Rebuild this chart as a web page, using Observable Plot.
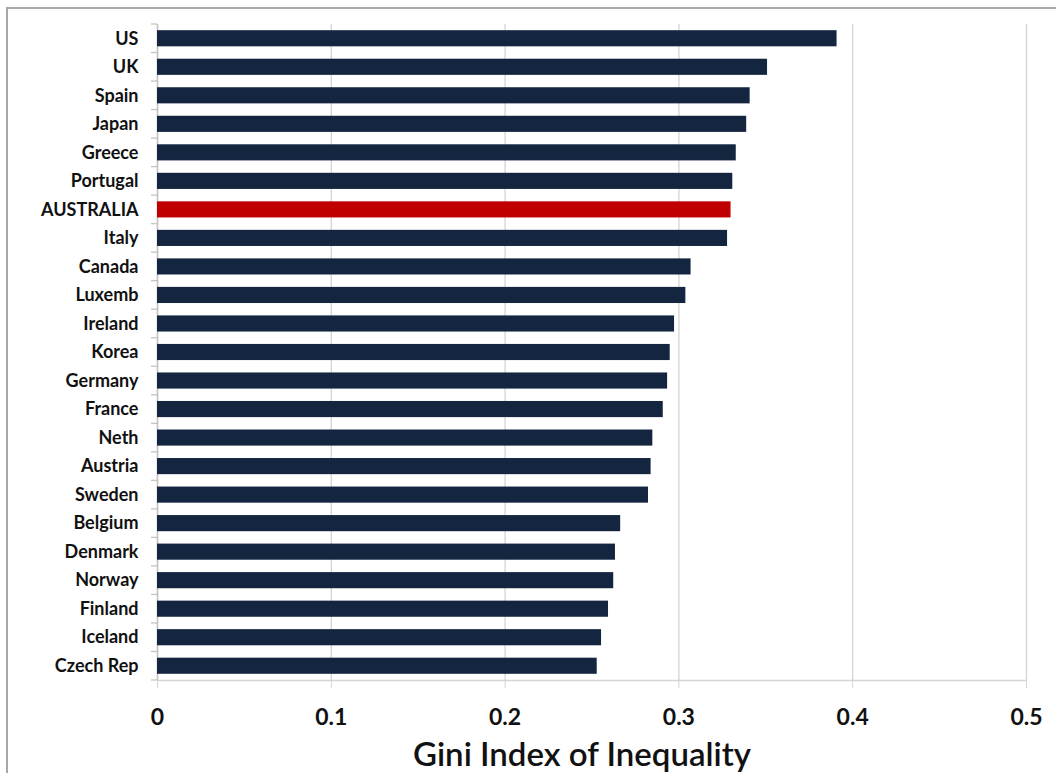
<!DOCTYPE html>
<html>
<head>
<meta charset="utf-8">
<script src="https://cdn.jsdelivr.net/npm/d3@7"></script>
<script src="https://cdn.jsdelivr.net/npm/@observablehq/plot@0.6"></script>
<style>
  html, body { margin: 0; padding: 0; background: #fff; }
  #wrap { position: relative; width: 1056px; height: 773px; overflow: hidden; }
  #frame { position: absolute; left: 6px; top: 7px; width: 1100px; height: 800px;
           border-left: 2px solid #a9a9a9; border-top: 2px solid #a9a9a9; }
  #chart { position: absolute; left: 0; top: 0; }
</style>
</head>
<body>
<div id="wrap"><div id="frame"></div><div id="chart"></div></div>
<script>
const countries = ["US","UK","Spain","Japan","Greece","Portugal","AUSTRALIA","Italy","Canada","Luxemb","Ireland","Korea","Germany","France","Neth","Austria","Sweden","Belgium","Denmark","Norway","Finland","Iceland","Czech Rep"];
const gini = [0.391,0.351,0.341,0.339,0.333,0.331,0.330,0.328,0.307,0.304,0.2975,0.295,0.2935,0.291,0.285,0.284,0.2825,0.2665,0.2635,0.2625,0.2595,0.2555,0.253];
const highlight = "AUSTRALIA";
const xTicks = [0, 0.1, 0.2, 0.3, 0.4, 0.5];
const xLabel = "Gini Index of Inequality";

const data = countries.map((c, i) => ({country: c, value: gini[i]}));

const W = 1056, H = 773;
const mt = 24, mb = 93, ml = 157, mr = 30;
const step = (H - mt - mb) / countries.length;
const font = "Lato, 'Open Sans', sans-serif";

const chart = Plot.plot({
  width: W,
  height: H,
  marginTop: mt,
  marginBottom: mb,
  marginLeft: ml,
  marginRight: mr,
  style: {fontFamily: font, background: "transparent", overflow: "visible"},
  x: {type: "linear", domain: [0, 0.5]},
  y: {type: "band", domain: countries, padding: 0, round: false},
  marks: [
    Plot.gridX(xTicks, {stroke: "#d4d4d4", strokeOpacity: 1, strokeWidth: 1.3}),
    Plot.ruleY([countries[countries.length - 1]], {x1: 0, x2: 0.5, dy: step / 2, stroke: "#d4d4d4", strokeWidth: 1.5}),
    Plot.ruleX([0], {stroke: "#c4c4c4", strokeWidth: 1.5}),
    Plot.barX(data, {
      y: "country", x: "value",
      fill: d => d.country === highlight ? "#c00000" : "#14253f",
      insetTop: 6.2, insetBottom: 6.2
    }),
    Plot.axisY({
      tickSize: 0, tickPadding: 19, fontSize: 18, fontWeight: "bold", label: null, fill: "#111"
    }),
    Plot.axisX(xTicks, {
      tickSize: 8, tickPadding: 20, fontSize: 23, fontWeight: "bold", label: null,
      stroke: "#d4d4d4", fill: "#111", tickFormat: d => String(d)
    }),
    Plot.text([xLabel], {
      frameAnchor: "bottom", dy: 75, dx: -10, text: d => d, fontSize: 33, fontWeight: "600",
      fill: "#111", lineAnchor: "middle"
    })
  ]
});

// small outward ticks on the y axis at category boundaries
const svg = d3.select(chart);
const yScale = chart.scale("y");
const xs = chart.scale("x");
const x0 = xs.apply(0);
const edges = countries.map(c => yScale.apply(c)).concat([yScale.apply(countries[countries.length - 1]) + step]);
svg.append("g").selectAll("line").data(edges).join("line")
  .attr("x1", x0 - 6).attr("x2", x0).attr("y1", d => d).attr("y2", d => d)
  .attr("stroke", "#c4c4c4").attr("stroke-width", 1.3);

document.getElementById("chart").appendChild(chart);
</script>
</body>
</html>
